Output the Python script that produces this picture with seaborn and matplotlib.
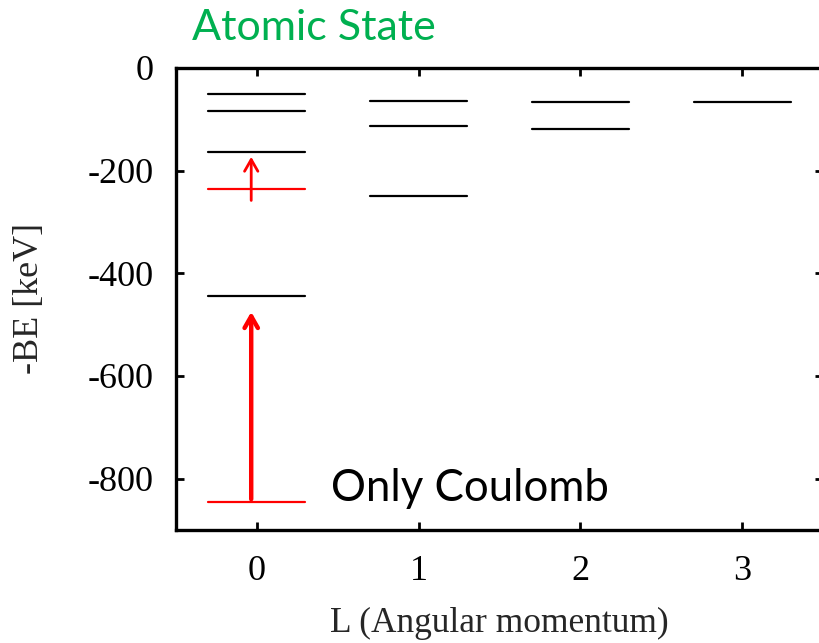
import numpy as np
import pandas as pd
import matplotlib
matplotlib.use("Agg")
import matplotlib.pyplot as plt
import seaborn as sns

# Energy levels (-BE in keV) per orbital angular momentum L
L_values = [0, 1, 2, 3]
levels_L0 = [-51, -84, -163, -445]
levels_L1 = [-64, -113, -249]
levels_L2 = [-66, -118]
levels_L3 = [-66]
# Coulomb-only levels for L = 0
coulomb_L0 = [-236, -845]
# Shifts from the Coulomb-only levels to the full levels (start, end)
shift_start = [-258, -840]
shift_end = [-173, -475]

y_ticks = [0, -200, -400, -600, -800]
half_width = 0.3

sns.set_theme(style="ticks")
plt.rcParams["font.family"] = ["Liberation Serif", "DejaVu Serif"]

fig = plt.figure(figsize=(8.19, 6.43), dpi=100)
ax = fig.add_axes([176 / 819, 1 - 530 / 643, (823 - 176) / 819, (530 - 68) / 643])

rows = []
seg = 0
for L, lev in zip(L_values, [levels_L0, levels_L1, levels_L2, levels_L3]):
    for e in lev:
        for dx in (-half_width, half_width):
            rows.append({"L": L + dx, "E": e, "seg": seg, "kind": "full"})
        seg += 1
for e in coulomb_L0:
    for dx in (-half_width, half_width):
        rows.append({"L": 0 + dx, "E": e, "seg": seg, "kind": "coulomb"})
    seg += 1
df = pd.DataFrame(rows)

sns.lineplot(data=df[df.kind == "full"], x="L", y="E", units="seg", estimator=None,
             color="black", lw=1.6, ax=ax, legend=False)
sns.lineplot(data=df[df.kind == "coulomb"], x="L", y="E", units="seg", estimator=None,
             color="red", lw=1.6, ax=ax, legend=False)

arrow_lw = [2.0, 3.2]
for s, e, lw in zip(shift_start, shift_end, arrow_lw):
    ax.annotate("", xy=(-0.035, e), xytext=(-0.035, s),
                arrowprops=dict(arrowstyle="->,head_length=0.7,head_width=0.4",
                                color="red", lw=lw, shrinkA=0, shrinkB=0))

ax.text(0.46, -843, "Only Coulomb", fontsize=31.5, family=["Lato", "DejaVu Sans"],
        color="black", ha="left", va="baseline")
fig.text(314 / 819, 1 - 28 / 643, "Atomic State", fontsize=31,
         family=["Lato", "DejaVu Sans"], color="#00B050", ha="center", va="center")

ax.set_xlim(-0.5, 3.5)
ax.set_ylim(-900, 0)
ax.set_xticks(L_values)
ax.set_yticks(y_ticks)
ax.set_xticklabels([str(v) for v in L_values])
ax.set_yticklabels([str(v) for v in y_ticks])
ax.tick_params(direction="in", length=6, width=2, labelsize=26, top=True, right=True,
               colors="black")
ax.tick_params(axis="y", pad=16)
ax.tick_params(axis="x", pad=18)
for sp in ax.spines.values():
    sp.set_linewidth(2.4)
    sp.set_color("black")
    sp.set_visible(True)

ax.set_xlabel("L (Angular momentum)", fontsize=25.5, labelpad=14)
ax.set_ylabel("-BE [keV]", fontsize=26, labelpad=30)

fig.savefig("out.png", dpi=100)
